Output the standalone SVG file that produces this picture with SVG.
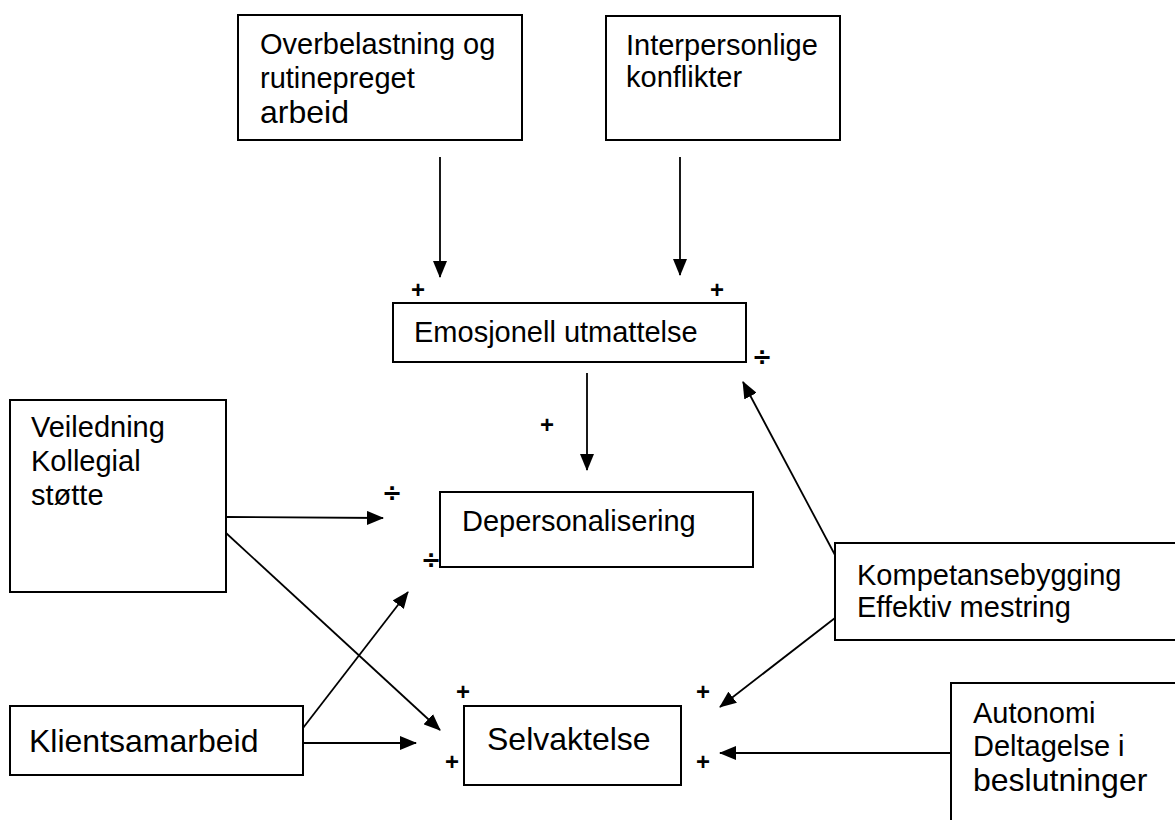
<svg xmlns="http://www.w3.org/2000/svg" width="1175" height="820" viewBox="0 0 1175 820">
<defs>
<marker id="ah" markerUnits="userSpaceOnUse" markerWidth="17" markerHeight="14" viewBox="0 0 17 14" refX="16" refY="7" orient="auto">
<path d="M0,0 L17,7 L0,14 Z" fill="#000"/>
</marker>
<style>
.box{fill:#fff;stroke:#000;stroke-width:2}
.t{font-family:"Liberation Sans",Arial,sans-serif;font-size:29px;fill:#000}
.tl{font-family:"Liberation Sans",Arial,sans-serif;font-size:32px;fill:#000}
.s{font-family:"Liberation Sans",Arial,sans-serif;font-size:24px;font-weight:bold;fill:#000;text-anchor:middle}
.d{font-family:"DejaVu Sans",sans-serif;font-size:24px;font-weight:bold;fill:#000;text-anchor:middle}
.c{stroke:#000;stroke-width:1.8;fill:none;marker-end:url(#ah)}
</style>
</defs>
<rect width="1175" height="820" fill="#fff"/>
<g id="connectors">
<line class="c" x1="440" y1="157" x2="440" y2="277"/>
<line class="c" x1="680" y1="157" x2="680" y2="275"/>
<line class="c" x1="587" y1="373" x2="587" y2="470"/>
<line class="c" x1="226" y1="517" x2="383" y2="518"/>
<line class="c" x1="226" y1="533" x2="440" y2="730"/>
<line class="c" x1="303" y1="728" x2="408" y2="592"/>
<line class="c" x1="303" y1="743" x2="416" y2="743"/>
<line class="c" x1="835" y1="555" x2="743" y2="382"/>
<line class="c" x1="835" y1="618" x2="720" y2="707"/>
<line class="c" x1="951" y1="753" x2="720" y2="753"/>
</g>
<g id="signs">
<text class="s" x="418" y="298">+</text>
<text class="s" x="717" y="298">+</text>
<text class="d" x="762" y="365">÷</text>
<text class="s" x="547" y="433">+</text>
<text class="d" x="392" y="501">÷</text>
<text class="d" x="431" y="568">÷</text>
<text class="s" x="463" y="700">+</text>
<text class="s" x="452" y="770">+</text>
<text class="s" x="703" y="700">+</text>
<text class="s" x="703" y="770">+</text>
</g>
<g id="n-overbelastning">
<rect class="box" x="238" y="15" width="284" height="125"/>
<text class="t" x="260" y="54">Overbelastning og</text>
<text class="t" x="260" y="88">rutinepreget</text>
<text class="tl" x="260" y="123">arbeid</text>
</g>
<g id="n-interpersonlige">
<rect class="box" x="606" y="16" width="234" height="124"/>
<text class="t" x="626" y="55">Interpersonlige</text>
<text class="t" x="626" y="87">konflikter</text>
</g>
<g id="n-emosjonell">
<rect class="box" x="393" y="303" width="353" height="59"/>
<text class="t" x="414" y="342">Emosjonell utmattelse</text>
</g>
<g id="n-veiledning">
<rect class="box" x="10" y="400" width="216" height="192"/>
<text class="t" x="31" y="437">Veiledning</text>
<text class="t" x="31" y="471">Kollegial</text>
<text class="t" x="31" y="505">støtte</text>
</g>
<g id="n-depersonalisering">
<rect class="box" x="440" y="492" width="313" height="75"/>
<text class="t" x="462" y="531">Depersonalisering</text>
</g>
<g id="n-kompetanse">
<rect class="box" x="835" y="543" width="350" height="97"/>
<text class="t" x="857" y="585">Kompetansebygging</text>
<text class="t" x="857" y="617">Effektiv mestring</text>
</g>
<g id="n-klientsamarbeid">
<rect class="box" x="10" y="706" width="293" height="69"/>
<text class="tl" x="29" y="752">Klientsamarbeid</text>
</g>
<g id="n-selvaktelse">
<rect class="box" x="464" y="706" width="217" height="79"/>
<text class="tl" x="487" y="750">Selvaktelse</text>
</g>
<g id="n-autonomi">
<rect class="box" x="951" y="683" width="240" height="160"/>
<text class="t" x="973" y="723">Autonomi</text>
<text class="t" x="973" y="756">Deltagelse i</text>
<text class="tl" x="973" y="791">beslutninger</text>
</g>
</svg>
